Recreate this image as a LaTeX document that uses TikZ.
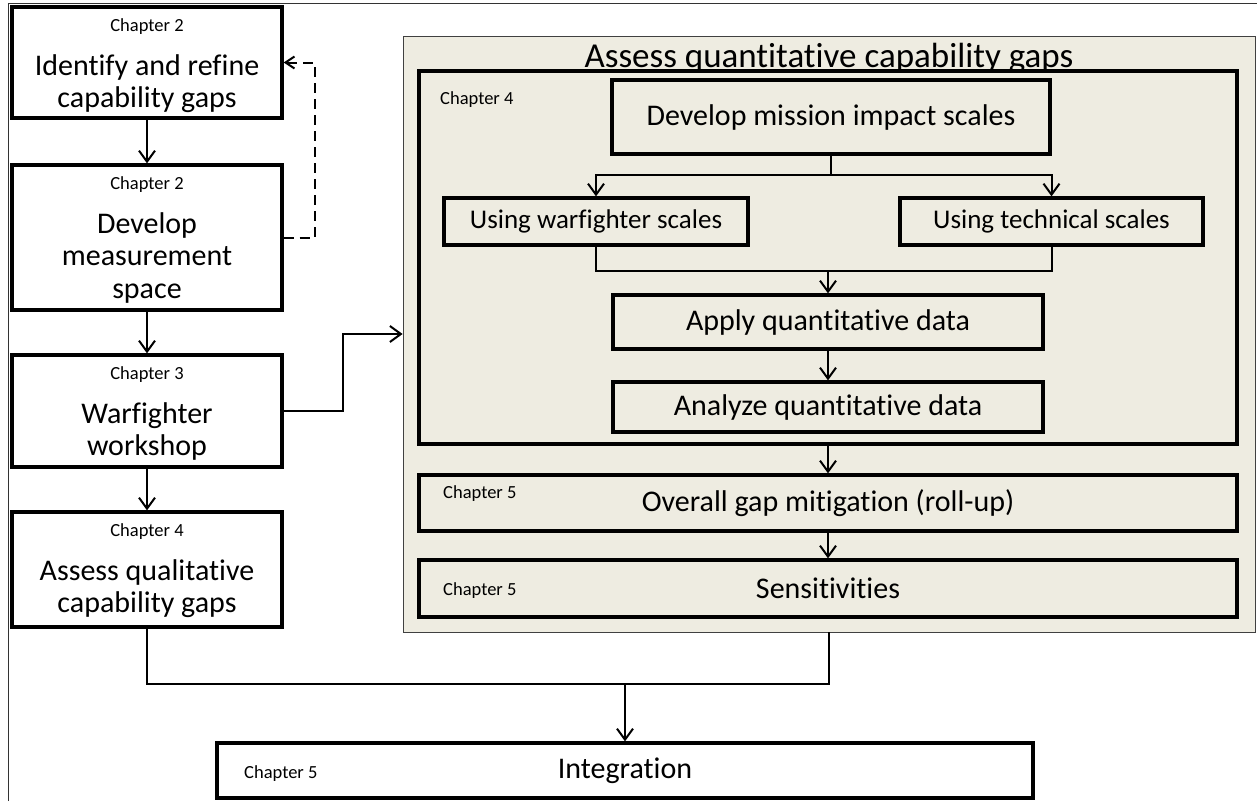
\documentclass[tikz,border=0pt]{standalone}
\usepackage{fontspec}
\setmainfont{Carlito}[Ligatures=NoCommon]
\usetikzlibrary{arrows.meta}
\definecolor{panelbeige}{HTML}{EEECE1}
\newcommand{\chaptxt}{\fontsize{18.5}{20}\selectfont}
\newcommand{\boxtxt}{\fontsize{30}{32.5}\selectfont}
\newcommand{\scaletxt}{\fontsize{27}{29}\selectfont}
\newcommand{\headtxt}{\fontsize{35}{38}\selectfont}
\tikzset{
	stepbox/.style={draw, line width=3.3pt, fill=white, inner sep=0pt},
	innerbox/.style={draw, line width=3.3pt, inner sep=0pt, font=\boxtxt},
	chaplabel/.style={inner sep=0pt, font=\chaptxt},
	steptext/.style={inner sep=0pt, align=center, font=\boxtxt},
	link/.style={line width=2pt},
	flow/.style={line width=2pt, -{Straight Barb[length=11pt,width=16pt]}},
}
\begin{document}
\begin{tikzpicture}[x=1pt,y=-1pt]
	\useasboundingbox (0,0) rectangle (1257,801);
	\draw[line width=0.8pt, black!80] (8,801)--(8,3)--(1257,3);
	% left column
	\foreach \nm/\cy/\bh/\chap/\txt in {
		idbox/62.5/111/2/{Identify and refine\\capability gaps},
		devbox/237.5/145/2/{Develop\\measurement\\space},
		wfbox/411/112/3/{Warfighter\\workshop},
		qualbox/569.5/115/4/{Assess qualitative\\capability gaps}}{
		\node[stepbox, minimum width=270pt, minimum height=\bh pt] (\nm) at (147,\cy) {};
		\node[chaplabel, anchor=base] (\nm-chap) at ([yshift=-26pt]\nm.north) {Chapter \chap};
		\node[steptext, anchor=north] (\nm-text) at ([yshift=-49pt]\nm.north) {\txt};
	}
	% right panel
	\node[draw=black!75, line width=0.8pt, fill=panelbeige, inner sep=0pt, minimum width=852pt, minimum height=596pt] (bigbox) at (829,334) {};
	\node[innerbox, minimum width=818pt, minimum height=373pt] (ch4box) at (828,257.5) {};
	\node[font=\headtxt, anchor=base, inner sep=0pt] (quanttitle) at (829,67) {Assess quantitative capability gaps};
	\node[chaplabel, anchor=base west] (ch4chap) at (440,104) {Chapter 4};
	\node[innerbox, minimum width=438pt, minimum height=74pt] (mission) at (831,117) {Develop mission impact scales};
	\node[innerbox, font=\scaletxt, minimum width=304pt, minimum height=47pt] (warfscale) at (596,221.5) {Using warfighter scales};
	\node[innerbox, font=\scaletxt, minimum width=303pt, minimum height=47pt] (techscale) at (1051.5,221.5) {Using technical scales};
	\node[innerbox, minimum width=430pt, minimum height=54pt] (apply) at (828,322) {Apply quantitative data};
	\node[innerbox, minimum width=430pt, minimum height=50pt] (analyze) at (828,407) {Analyze quantitative data};
	\node[innerbox, minimum width=818pt, minimum height=56pt] (rollup) at (828,503) {Overall gap mitigation (roll-up)};
	\node[chaplabel, anchor=base west] (rollupchap) at (443,498) {Chapter 5};
	\node[innerbox, minimum width=818pt, minimum height=57pt] (sens) at (828,588.5) {Sensitivities};
	\node[chaplabel, anchor=base west] (senschap) at (443,595) {Chapter 5};
	% bottom
	\node[innerbox, fill=white, minimum width=816pt, minimum height=55pt] (integ) at (625,770.5) {Integration};
	\node[chaplabel, anchor=base west] (integchap) at (244,778) {Chapter 5};
	\coordinate (split) at (831,175);
	\coordinate (merge) at (828,271);
	\coordinate (join) at (625,684);
	% connectors
	\draw[flow] (idbox.south)--(devbox.north);
	\draw[flow] (devbox.south)--(wfbox.north);
	\draw[flow] (wfbox.south)--(qualbox.north);
	\draw[link, dash pattern=on 10pt off 6pt, -{Straight Barb[length=9pt,width=12pt]}] (devbox.east)--++(31,0)|-(idbox.east);
	\draw[flow] (wfbox.east)--++(59,0)|-(bigbox.west);
	\draw[link] (mission.south)--(split);
	\draw[flow] (split)-|(warfscale.north);
	\draw[flow] (split)-|(techscale.north);
	\draw[link] (warfscale.south)|-(merge);
	\draw[link] (techscale.south)|-(merge);
	\draw[flow] (merge)--(apply.north);
	\draw[flow] (apply.south)--(analyze.north);
	\draw[flow] (ch4box.south)--(rollup.north);
	\draw[flow] (rollup.south)--(sens.north);
	\draw[link] (qualbox.south)|-(join);
	\draw[link] (bigbox.south)|-(join);
	\draw[flow] (join)--(integ.north);
\end{tikzpicture}
\end{document}
